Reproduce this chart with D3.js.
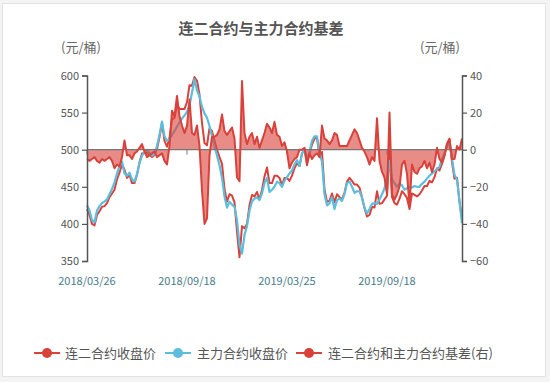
<!DOCTYPE html>
<html><head><meta charset="utf-8">
<script src="https://cdn.jsdelivr.net/npm/d3@7/dist/d3.min.js"></script>
<style>html,body{margin:0;padding:0;background:#f4f4f4;}svg{display:block;}</style>
</head><body>
<svg id="c" width="550" height="382"></svg>
<script>
const title = "连二合约与主力合约基差";
const unitLabel = "(元/桶)";
const seriesNames = ["连二合约收盘价", "主力合约收盘价", "连二合约和主力合约基差(右)"];
const xTickIndex = [0, 40, 80, 120];
const xTickLabels = ["2018/03/26", "2018/09/18", "2019/03/25", "2019/09/18"];
const leftTicks = [350, 400, 450, 500, 550, 600];
const rightTicks = [-60, -40, -20, 0, 20, 40];

// 主力合约收盘价
const mainPrice = [425,418,405,402,418,424,428,430,433,440,447,456,468,478,484,468,465,469,460,457,
467,482,492,497,500,496,492,494,505,520,538,518,512,514,520,525,531,537,542,546,
551,560,577,595,580,572,558,549,543,532,518,505,492,479,462,437,422,430,426,423,
405,372,360,385,397,418,430,434,436,432,441,455,462,443,446,450,457,455,450,458,
463,468,472,480,486,478,495,500,486,497,512,518,518,495,484,440,425,428,436,420,
432,434,431,440,455,457,450,442,444,444,435,422,414,420,427,428,427,433,440,448,
462,485,460,455,450,454,452,446,448,450,449,451,450,450,454,457,461,465,468,471,
474,477,488,495,505,508,488,466,460,430,401];

// 连二合约收盘价
const secondPrice = [420,412,400,398,412,417,423,424,428,436,441,446,460,469,480,473,462,466,455,455,
466,483,495,496,496,493,490,493,501,517,536,512,504,516,541,543,560,555,555,555,
564,587,586,598,593,574,536,509,506,529,525,512,500,490,481,447,430,440,438,429,
390,355,397,394,400,425,439,437,443,433,446,464,476,455,455,465,465,462,452,462,
462,458,465,475,482,478,495,501,479,495,507,515,516,491,497,446,430,431,441,429,
440,436,433,442,457,462,458,453,453,449,436,421,410,412,423,422,444,427,428,433,
438,500,436,428,426,434,444,440,435,420,441,439,437,440,445,451,451,458,456,463,
475,472,481,492,508,514,483,461,462,430,407];

// 基差(右)
const basis = [-5,-6,-5,-4,-6,-7,-5,-6,-5,-4,-6,-10,-8,-9,-4,5,-3,-3,-5,-2,
-1,1,3,-1,-4,-3,-2,-1,-4,-3,-2,-6,-8,2,21,18,29,18,13,9,
13,27,9,8,13,2,-22,-40,-37,-3,7,7,8,11,19,10,8,10,12,6,
-15,-17,37,9,3,7,9,3,7,1,5,9,14,12,9,15,8,7,2,4,
-1,-10,-7,-5,-4,0,0,1,-7,-2,-5,-3,-2,-4,13,6,5,3,5,9,
8,2,2,2,2,5,8,11,9,5,1,-1,-4,-8,-4,-6,17,-6,-12,-15,
-24,20,-24,-27,-24,-20,-8,-6,-13,-30,-8,-12,-13,-10,-9,-6,-10,-7,-12,-8,
1,-5,-7,-3,3,6,-5,-5,2,0,6];

const colRed = "#d9413b", colBlue = "#5bbedd", colArea = "rgba(220,70,62,0.62)";
const font = "'Noto Sans CJK SC','Noto Sans',sans-serif";

const svg = d3.select("#c");
svg.append("rect").attr("x",2.5).attr("y",3.5).attr("width",543).attr("height",373)
  .attr("fill","#fff").attr("stroke","#e3e3e3");

const x = d3.scaleLinear().domain([0, mainPrice.length - 1]).range([87, 462]);
const yL = d3.scaleLinear().domain([350, 600]).range([261, 75.5]);
const yR = d3.scaleLinear().domain([-60, 40]).range([261, 75.5]);

// title & units
svg.append("text").attr("x",261).attr("y",34).attr("text-anchor","middle")
  .attr("font-family",font).attr("font-size",15).attr("font-weight","bold").attr("fill","#555").text(title);
svg.append("text").attr("x",81).attr("y",52).attr("text-anchor","middle")
  .attr("font-family",font).attr("font-size",13).attr("fill","#666").text(unitLabel);
svg.append("text").attr("x",440).attr("y",52).attr("text-anchor","middle")
  .attr("font-family",font).attr("font-size",13).attr("fill","#666").text(unitLabel);

// series
const lineL = d3.line().x((d,i)=>x(i)).y(d=>yL(d));
const lineR = d3.line().x((d,i)=>x(i)).y(d=>yR(d));
const areaR = d3.area().x((d,i)=>x(i)).y0(yR(0)).y1(d=>yR(d));

svg.append("path").datum(secondPrice).attr("d",lineL).attr("fill","none")
  .attr("stroke",colRed).attr("stroke-width",2).attr("stroke-linejoin","round");
svg.append("path").datum(mainPrice).attr("d",lineL).attr("fill","none")
  .attr("stroke",colBlue).attr("stroke-width",2.2).attr("stroke-linejoin","round");
svg.append("path").datum(basis).attr("d",areaR).attr("fill",colArea).attr("stroke","none");

// zero axis line (x axis on zero)
const xAxisG = svg.append("g");
xAxisG.append("line").attr("x1",87).attr("x2",462).attr("y1",yR(0)).attr("y2",yR(0))
  .attr("stroke","#777").attr("stroke-width",1.3);
xAxisG.selectAll("line.tk").data(xTickIndex).enter().append("line").attr("class","tk")
  .attr("x1",d=>x(d)).attr("x2",d=>x(d)).attr("y1",yR(0)).attr("y2",yR(0)+5)
  .attr("stroke","#777").attr("stroke-width",1);

svg.append("path").datum(basis).attr("d",lineR).attr("fill","none")
  .attr("stroke",colRed).attr("stroke-width",2).attr("stroke-linejoin","round");

// x labels
svg.append("g").selectAll("text").data(xTickIndex).enter().append("text")
  .attr("x",d=>x(d)).attr("y",285).attr("text-anchor","middle")
  .attr("font-family",font).attr("font-size",11).attr("fill","#4a7b8a")
  .text((d,i)=>xTickLabels[i]);

// y axes
const gL = svg.append("g").attr("transform","translate(87,0)")
  .call(d3.axisLeft(yL).tickValues(leftTicks).tickSize(5).tickPadding(3));
const gR = svg.append("g").attr("transform","translate(462,0)")
  .call(d3.axisRight(yR).tickValues(rightTicks).tickSize(5).tickPadding(3));
[gL, gR].forEach(g => {
  g.select(".domain").attr("stroke","#555").attr("stroke-width",1.5);
  g.selectAll(".tick line").attr("stroke","#555").attr("stroke-width",1.2);
  g.selectAll(".tick text").attr("font-family",font).attr("font-size",11).attr("fill","#555");
});

// legend
const legendItems = [
  {name: seriesNames[0], color: colRed, cx: 47, tx: 65},
  {name: seriesNames[1], color: colBlue, cx: 178, tx: 197},
  {name: seriesNames[2], color: colRed, cx: 309, tx: 328}
];
const lg = svg.append("g");
legendItems.forEach(it => {
  lg.append("line").attr("x1",it.cx-13).attr("x2",it.cx+13).attr("y1",353).attr("y2",353)
    .attr("stroke",it.color).attr("stroke-width",2);
  lg.append("circle").attr("cx",it.cx).attr("cy",353).attr("r",5).attr("fill",it.color);
  lg.append("text").attr("x",it.tx).attr("y",358).attr("font-family",font).attr("font-size",13)
    .attr("fill","#555").text(it.name);
});
</script>
</body></html>
